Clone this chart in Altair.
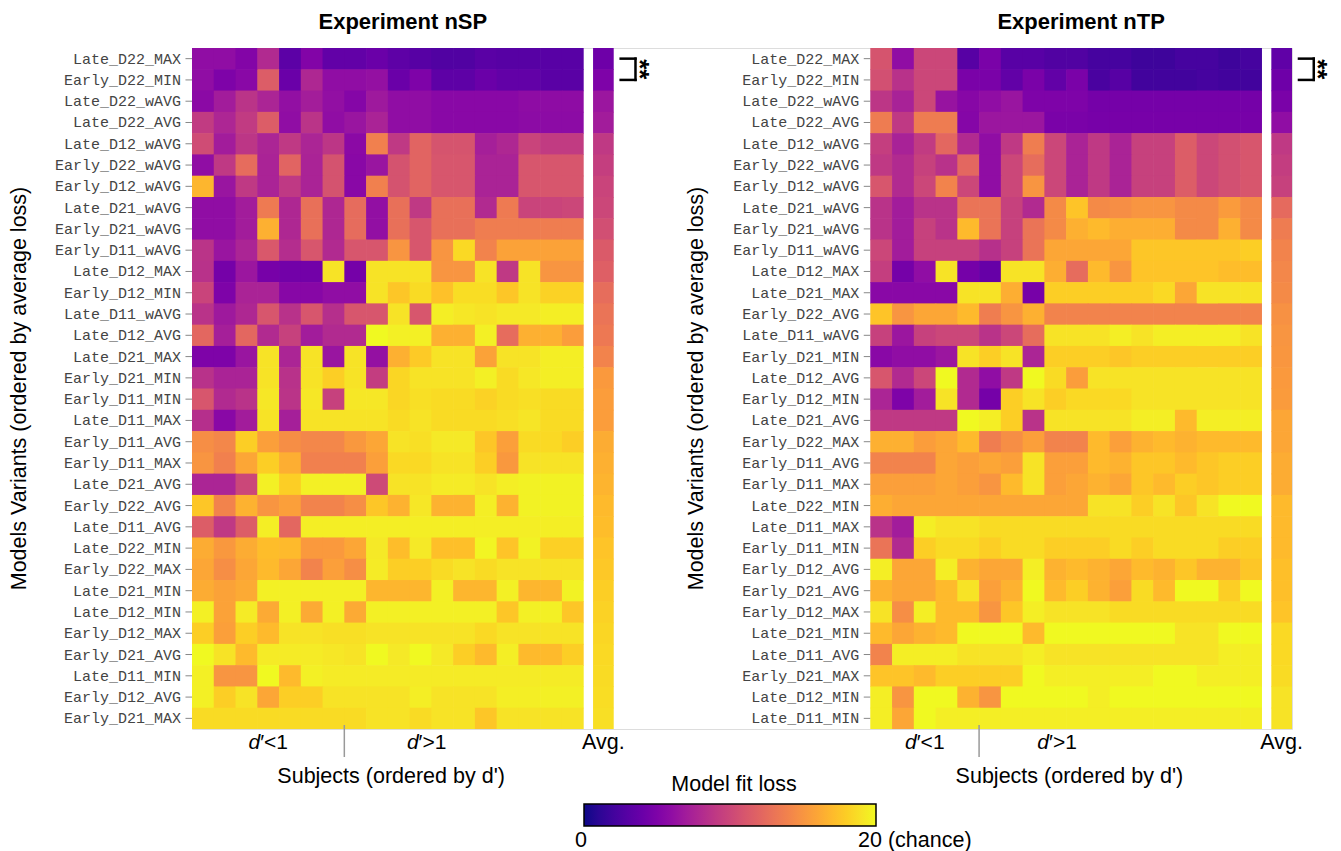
import altair as alt
import pandas as pd

SANS = "Liberation Sans"
MONO = "Liberation Mono"

# ---------------- data ----------------
nsp_rows = ["Late_D22_MAX", "Early_D22_MIN", "Late_D22_wAVG", "Late_D22_AVG", "Late_D12_wAVG",
            "Early_D22_wAVG", "Early_D12_wAVG", "Late_D21_wAVG", "Early_D21_wAVG", "Early_D11_wAVG",
            "Late_D12_MAX", "Early_D12_MIN", "Late_D11_wAVG", "Late_D12_AVG", "Late_D21_MAX",
            "Early_D21_MIN", "Early_D11_MIN", "Late_D11_MAX", "Early_D11_AVG", "Early_D11_MAX",
            "Late_D21_AVG", "Early_D22_AVG", "Late_D11_AVG", "Late_D22_MIN", "Early_D22_MAX",
            "Late_D21_MIN", "Late_D12_MIN", "Early_D12_MAX", "Early_D21_AVG", "Late_D11_MIN",
            "Early_D12_AVG", "Early_D21_MAX"]

ntp_rows = ["Late_D22_MAX", "Early_D22_MIN", "Late_D22_wAVG", "Late_D22_AVG", "Late_D12_wAVG",
            "Early_D22_wAVG", "Early_D12_wAVG", "Late_D21_wAVG", "Early_D21_wAVG", "Early_D11_wAVG",
            "Late_D12_MAX", "Late_D21_MAX", "Early_D22_AVG", "Late_D11_wAVG", "Early_D21_MIN",
            "Late_D12_AVG", "Early_D12_MIN", "Late_D21_AVG", "Early_D22_MAX", "Early_D11_AVG",
            "Early_D11_MAX", "Late_D22_MIN", "Late_D11_MAX", "Early_D11_MIN", "Early_D12_AVG",
            "Early_D21_AVG", "Early_D12_MAX", "Late_D21_MIN", "Late_D11_AVG", "Early_D21_MAX",
            "Late_D12_MIN", "Late_D11_MIN"]

nsp_values = [
    [6, 6, 5.3, 8, 3.3, 5.2, 3.6, 3.6, 4, 3.4, 3, 2.7, 2.7, 3.2, 3, 3, 3.1, 3.1],
    [6, 5, 5.6, 11.5, 4, 7.8, 6, 6, 6.2, 4, 5, 3.4, 3.4, 4, 3.6, 3.6, 3.2, 3.2],
    [5.7, 7, 8.7, 7.6, 6.1, 7.1, 6.1, 5.4, 6.8, 6, 6, 5.6, 5.6, 5.6, 5.6, 5.9, 5.9, 5.9],
    [9.2, 7.7, 9.2, 11.5, 6, 8.7, 6, 6.5, 7.5, 6, 6, 5.6, 5.6, 5.6, 5.6, 5.8, 5.8, 5.8],
    [10.3, 7, 8.8, 7.6, 9, 7.6, 8.8, 5.7, 13.8, 9, 12, 10.9, 10.9, 7.2, 7.8, 9.8, 9.2, 9.2],
    [6, 9, 12.5, 7.5, 12, 7.5, 10.8, 5.6, 6.5, 10.8, 12, 11, 11, 7.5, 7.5, 11, 11, 11],
    [16.8, 6.5, 9, 7.5, 9, 7.5, 10.8, 5.6, 13.8, 10.8, 12, 11, 11, 7.5, 7.5, 11, 11, 11],
    [6, 6, 7, 13.4, 7.8, 12.8, 7.8, 12.5, 6.1, 12.8, 9, 12.8, 12.8, 8, 13.4, 9.8, 9.8, 10],
    [6, 6, 7, 16.5, 7.8, 12.8, 7.8, 12.5, 6.1, 12.8, 11, 12.8, 12.8, 13.6, 13.6, 13.6, 13.6, 13.6],
    [8.7, 6.5, 7.6, 11.2, 8.2, 11, 8, 11, 11, 15, 11, 15, 18.5, 14, 15.8, 15.8, 15.8, 15.8],
    [8.5, 4.5, 6.6, 4.6, 4.4, 4.4, 19, 4.5, 19, 19, 19, 15, 15, 19, 9, 19, 15, 15],
    [9.8, 5, 7.5, 7.5, 5.5, 5.5, 6, 6, 19, 17.6, 18.6, 17.4, 18.7, 18.7, 17.6, 19, 18.2, 18.2],
    [8.6, 6.8, 7.8, 11, 8.5, 11, 8.3, 11, 11, 19, 11, 19.5, 19.2, 19, 19.3, 19.3, 19.5, 19.5],
    [12.2, 7.2, 12.2, 8, 9.6, 7, 8, 8, 20, 19.6, 19.6, 16.5, 16.5, 19.6, 12.5, 16.5, 16.5, 15.5],
    [5, 5, 6.5, 19, 7.6, 19, 6.5, 19, 6.2, 16.5, 17.8, 19, 19, 15.8, 19, 19, 19.5, 19.5],
    [8.5, 7.5, 7.5, 19, 8.5, 19, 18, 19, 9.3, 18.4, 19, 19, 19, 19.6, 18.6, 19.2, 19.5, 19.5],
    [11, 8, 8.6, 19.2, 8.7, 19.2, 9.6, 19.2, 19.2, 18.4, 18.8, 18.6, 18.6, 18.2, 18.6, 18.8, 18.6, 18.6],
    [8.3, 5.6, 7, 19, 7.2, 19, 19, 19, 19, 18.6, 19, 18.6, 18.6, 18.6, 18.8, 19.1, 18.6, 18.6],
    [14.6, 14.2, 18, 15.6, 14.6, 14.2, 14.2, 15.2, 16, 19, 18.8, 19.3, 19.3, 17.6, 15.6, 18.6, 18.5, 18],
    [15, 13.8, 16, 18, 16.4, 13.8, 13.8, 13.8, 15.6, 18.5, 18.5, 19, 19, 18, 15.2, 19, 19, 19],
    [7.6, 7.6, 10, 19.6, 18, 19.6, 19.6, 19.6, 10.2, 19, 19, 19.4, 19.4, 19, 19.5, 19.7, 19.7, 19.7],
    [17.6, 14, 16.6, 15, 15.6, 14, 14, 14.6, 17.6, 16.6, 19.2, 16.6, 16.6, 19.5, 16.6, 19.7, 19.7, 19.7],
    [11.5, 9, 11.5, 19.5, 12.2, 19.5, 19.5, 19.5, 19.5, 19.5, 19.5, 19.5, 19.5, 19.5, 19.5, 19.5, 19.5, 19.5],
    [16.3, 15.2, 16.3, 17.2, 17, 15.3, 15.3, 16, 19.3, 17.2, 19.3, 17.3, 17.3, 19.8, 17.5, 19.7, 18.1, 18.1],
    [16, 14.6, 16, 17, 16, 14, 15.6, 14.6, 19.4, 18, 18, 18.6, 19, 18.6, 19, 19, 19, 19],
    [16.3, 15.8, 16.2, 19.6, 19.6, 19.6, 19.6, 19.6, 16.8, 16.8, 16.8, 19.6, 16.8, 16.8, 19.6, 16.8, 16.8, 19.7],
    [19.6, 15.8, 19.4, 16.2, 19.6, 16.2, 19.6, 16.2, 19.6, 19.6, 19.6, 19.6, 19.6, 19.6, 17.6, 19.6, 19.6, 17.6],
    [18, 15.6, 18, 17, 19, 19, 18.8, 18.8, 19, 19, 19, 19, 19, 18.5, 19, 19, 19, 19],
    [20, 19, 17, 19.4, 19.4, 19.4, 19.2, 19, 20, 19.3, 20, 19.3, 18, 17, 19.5, 17, 17, 18],
    [19.6, 15, 15, 20, 17, 19.6, 19.4, 19.4, 19.4, 19.4, 19.4, 19.4, 19.4, 19.4, 19.4, 19.4, 19.4, 19.4],
    [19.6, 18, 19, 16, 18, 18, 19, 19, 19, 19, 19.5, 19, 19, 19, 19.5, 19.5, 19.6, 19.6],
    [18.6, 18.6, 18.6, 18.6, 18.6, 18.6, 18.6, 18.6, 19, 19, 18.6, 19, 19, 17.6, 19, 19, 19, 19],
]
nsp_avg = [4.2, 5, 6.6, 7, 9, 9.4, 9.8, 10, 10.5, 11.3, 11.7, 12.6, 13, 13.3, 14, 15.3,
           15.5, 15.5, 16.3, 16.5, 16.7, 17, 17.2, 17.5, 17.7, 18, 18.2, 18.4, 18.5, 18.6, 18.7, 18.8]

ntp_values = [
    [10.9, 6, 10, 10, 3, 4.8, 3.1, 3.1, 2.7, 2.7, 2.2, 2.2, 1.8, 1.8, 2.2, 2.2, 1.8, 2.2],
    [10.6, 8.5, 10, 10, 4.8, 4.8, 3.6, 4.8, 3.6, 4.8, 2.4, 3, 2, 2, 2, 2.2, 2, 2],
    [8.8, 7.4, 10, 6.4, 5.5, 6, 6.5, 5, 5, 5, 4.5, 4.5, 4.5, 4.5, 4.5, 4.5, 4.5, 4.5],
    [13.5, 9, 13.5, 13.5, 5.4, 6.6, 6.6, 6.6, 4.8, 4.8, 4.6, 4.6, 4.6, 4.6, 4.6, 4.6, 4.6, 4.6],
    [9.4, 7.4, 9.2, 12.2, 8, 6, 9, 13.6, 10, 7.5, 9, 7.5, 9.6, 9.6, 11.5, 10, 10.6, 11],
    [9, 8, 9.6, 8.5, 12.2, 6, 10, 12.6, 10, 7.5, 9, 7.5, 9.6, 9.6, 11.5, 10, 10.6, 11],
    [11, 8, 10, 14, 10, 6, 10, 15, 10, 7.5, 9, 7.5, 9.6, 9.6, 11.5, 10, 10.6, 11],
    [8.6, 7, 8.6, 8.6, 13, 13, 9.6, 8, 14.4, 17.5, 14.4, 14.6, 15, 15, 14.4, 14.4, 15.4, 14.4],
    [8.6, 7, 9.6, 8.6, 17, 13, 9.6, 13, 14.4, 16.5, 17, 16.4, 16.4, 16.4, 14.4, 14.4, 16.5, 14.4],
    [10, 7, 9.6, 9.6, 9.6, 8.4, 9.6, 13, 16, 16, 16, 16, 17.6, 17.6, 17.6, 17.6, 17.6, 18],
    [9.4, 4.5, 6, 19, 4.5, 3.8, 19, 19, 16.4, 12.5, 17, 15, 17.5, 17.5, 17.5, 17.5, 17.2, 17.2],
    [5.6, 5.6, 5.6, 5.6, 19, 19, 16.4, 4.6, 18, 18, 18, 18, 18, 18.5, 16, 19, 19, 19],
    [17.5, 15, 16, 16, 17, 13.6, 15, 16.5, 14, 14, 14, 14, 14, 14, 14, 14, 14, 14],
    [9.6, 6.6, 9.6, 10, 10, 8.6, 10, 12.6, 19, 19, 19, 19.5, 19, 19.5, 19.5, 19.5, 19.5, 19],
    [5.6, 6, 6, 6.6, 19, 18, 19, 7.6, 18, 18, 18, 17.6, 18, 18, 18, 18, 18, 18],
    [11, 8, 10, 20, 8, 6, 9, 20, 18.6, 15.5, 19, 19, 19, 19, 19, 19, 19, 19],
    [7.6, 5, 7, 19, 8, 4.5, 18, 19, 18, 18.5, 18.5, 18.5, 19, 19, 19, 19, 19, 19],
    [9, 9, 9, 9, 20, 19.5, 18, 8.6, 19, 19, 19, 19, 19.5, 19.5, 17, 19.5, 19.5, 19.5],
    [16.5, 16.5, 15.5, 16, 17, 13.6, 14.6, 15.6, 14, 14, 17, 15.6, 16.6, 17, 16.6, 17, 17, 17],
    [14, 14, 14, 16, 15.6, 16, 15.6, 19, 15.6, 15.6, 17, 16.6, 17.6, 17.6, 17, 17.6, 18, 18],
    [15.6, 15.6, 15.6, 16, 15.6, 15, 17, 19, 15.6, 16, 16.6, 16, 17.6, 17, 18, 17.6, 18, 18],
    [16.4, 16, 16, 16, 16, 16, 16, 16, 16, 16, 19, 19, 18, 19, 17.6, 19, 20, 20],
    [8.6, 7, 19.5, 19, 19, 18.6, 18.6, 18.6, 18.6, 18.6, 18.6, 18.6, 18.6, 18.6, 18.6, 18.6, 18.6, 18.6],
    [13, 8, 18, 18.6, 18.6, 18, 18.6, 18.6, 18, 18, 18, 18.6, 18, 18.6, 18.6, 18.6, 18, 18],
    [19.5, 16, 16, 19.5, 16.6, 16, 16, 19.5, 16.6, 17, 16.6, 16, 17, 16.6, 17.6, 16.6, 16.6, 17.6],
    [16.6, 16, 16, 17, 19, 15.6, 16.6, 20, 17, 18, 16.6, 15.6, 18.6, 17, 20, 20, 18, 20],
    [19, 14.6, 19.5, 17, 17, 15, 17.6, 19.5, 19, 19, 19, 18.6, 18.6, 18.6, 18.6, 18.6, 18.6, 18.6],
    [17, 16, 16.6, 17, 20, 20, 20, 17, 20, 20, 20, 20, 20, 20, 19, 19, 20, 20],
    [14, 19.5, 19.5, 19.5, 19, 19, 19, 19.5, 19, 19, 19, 19, 19, 19, 19, 19, 19.5, 19.5],
    [17.5, 17.5, 17, 18, 18, 18, 18, 20, 19.5, 19.5, 19.5, 19.5, 19.5, 20, 20, 19.5, 19.5, 19.5],
    [19.5, 15, 20, 20, 16.6, 15, 20, 20, 20, 20, 19.5, 20, 20, 20, 20, 20, 20, 20],
    [19.5, 16, 20, 19.5, 19.5, 19.5, 19.5, 19.5, 19.5, 19.5, 19.5, 19.5, 19.5, 19.5, 19.5, 19.5, 19.5, 19.5],
]
ntp_avg = [3.5, 4.2, 4.8, 6, 9, 9.3, 9.6, 12.4, 13.5, 14, 14.2, 14.4, 14.8, 15, 15.1, 15.3,
           15.4, 16, 16, 16.3, 16.3, 17, 17, 17, 17.3, 17.3, 17.5, 18.5, 18.5, 18.6, 19, 19]

panel_titles = ["Experiment nSP", "Experiment nTP"]
split_after = [7, 5]              # number of subjects with d' < 1
dhigh_pos = [10.78, 8.58]         # where the "d'>1" text sits (in subject units)
subjects_pos = [9.15, 9.15]       # where the x title sits (in subject units)
y_title = "Models Variants (ordered by average loss)"
x_title = "Subjects (ordered by d')"
legend_title = "Model fit loss"
legend_ends = ["0", "20 (chance)"]

# ---------------- layout (in subject-column units) ----------------
N_ROWS = 32
OFFSETS = [0.0, 31.17]
AVG_START, AVG_END = 18.43, 19.38
X_MAX = 50.55
W, H = 1100, 681
FS = 21.5
JOIN = 0.03   # tiny overlap so adjacent cells join without anti-aliasing seams

xs = alt.Scale(domain=[0, X_MAX], nice=False, zero=False)
ys = alt.Scale(domain=[0, N_ROWS], reverse=True, nice=False, zero=False)
cs = alt.Scale(scheme="plasma", domain=[0, 20])

cells, labels, ticks, titles, ytitles = [], [], [], [], []
dtexts, avgs, subj, seps, brackets, stars = [], [], [], [], [], []
for p, (off, rows, vals, av) in enumerate(zip(OFFSETS, [nsp_rows, ntp_rows],
                                              [nsp_values, ntp_values], [nsp_avg, ntp_avg])):
    for r, row in enumerate(vals):
        y2 = r + 1 + (JOIN if r < N_ROWS - 1 else 0)
        for c, v in enumerate(row):
            x2 = off + c + 1 + (JOIN if c < len(row) - 1 else 0)
            cells.append(dict(x=off + c, x2=x2, y=r, y2=y2, loss=v))
        cells.append(dict(x=off + AVG_START, x2=off + AVG_END, y=r, y2=y2, loss=av[r]))
    for r, name in enumerate(rows):
        labels.append(dict(x=off, y=r + 0.5, text=name))
        ticks.append(dict(x=off - 0.3, x2=off, y=r + 0.5))
    titles.append(dict(x=off + AVG_END / 2, text=panel_titles[p]))
    ytitles.append(dict(x=off - 7.9 if p == 0 else off - 7.97, y=N_ROWS / 2, text=y_title))
    dtexts.append(dict(x=off + split_after[p] / 2, d="d", rest="\u2032<1"))
    dtexts.append(dict(x=off + dhigh_pos[p], d="d", rest="\u2032>1"))
    avgs.append(dict(x=off + (AVG_START + AVG_END) / 2, text="Avg."))
    subj.append(dict(x=off + subjects_pos[p], text=x_title))
    seps.append(dict(x=off + split_after[p]))
    a, b = off + 19.7, off + 20.38
    brackets += [dict(x=a, x2=b, y=0.5, y2=0.5), dict(x=a, x2=b, y=1.5, y2=1.5),
                 dict(x=b, x2=b, y=0.5, y2=1.5)]
    stars.append(dict(x=off + 20.55, y=1.0, text="**"))

X = alt.X("x:Q", scale=xs, axis=None)
Y = alt.Y("y:Q", scale=ys, axis=None)

# colour bar (pixel placement of the guide)
LEG_X, LEG_Y, LEG_LEN, LEG_THICK = 392, 756, 292, 22

legend = alt.Legend(
    type="gradient", orient="none", legendX=LEG_X, legendY=LEG_Y, direction="horizontal",
    gradientLength=LEG_LEN, gradientThickness=LEG_THICK,
    gradientStrokeColor="black", gradientStrokeWidth=1.5,
    title=None, tickCount=4, labelExpr="''", labelFontSize=1,
)

heat = alt.Chart(pd.DataFrame(cells)).mark_rect().encode(
    x=X, x2="x2:Q", y=Y, y2="y2:Q",
    color=alt.Color("loss:Q", scale=cs, legend=legend),
)

row_labels = alt.Chart(pd.DataFrame(labels)).mark_text(
    align="right", baseline="middle", dx=-11, font=MONO, fontSize=15, color="#444"
).encode(x=X, y=Y, text="text:N")

row_ticks = alt.Chart(pd.DataFrame(ticks)).mark_rule(color="#888", strokeWidth=1).encode(
    x=X, x2="x2:Q", y=Y)

title_layer = alt.Chart(pd.DataFrame(titles)).mark_text(
    align="center", baseline="middle", font=SANS, fontSize=22, fontWeight="bold", color="black"
).encode(x=X, y=alt.value(-26), text="text:N")

ytitle_layer = alt.Chart(pd.DataFrame(ytitles)).mark_text(
    angle=270, align="center", baseline="middle", font=SANS, fontSize=FS, color="black"
).encode(x=X, y=Y, text="text:N")

d_part = alt.Chart(pd.DataFrame(dtexts)).mark_text(
    align="right", baseline="middle", dx=-8, font=SANS, fontSize=21, fontStyle="italic",
    color="black").encode(x=X, y=alt.value(695), text="d:N")
rest_part = alt.Chart(pd.DataFrame(dtexts)).mark_text(
    align="left", baseline="middle", dx=-8, font=SANS, fontSize=21, color="black"
).encode(x=X, y=alt.value(695), text="rest:N")

avg_text = alt.Chart(pd.DataFrame(avgs)).mark_text(
    align="center", baseline="middle", font=SANS, fontSize=FS, color="black"
).encode(x=X, y=alt.value(695), text="text:N")

subj_text = alt.Chart(pd.DataFrame(subj)).mark_text(
    align="center", baseline="middle", font=SANS, fontSize=FS, color="black"
).encode(x=X, y=alt.value(729), text="text:N")

legend_title_text = alt.Chart(pd.DataFrame({"text": [legend_title]})).mark_text(
    align="center", baseline="middle", font=SANS, fontSize=FS, color="black"
).encode(x=alt.value(LEG_X + LEG_LEN / 2 + 4), y=alt.value(737), text="text:N")

legend_end_0 = alt.Chart(pd.DataFrame({"text": [legend_ends[0]]})).mark_text(
    align="center", baseline="middle", font=SANS, fontSize=FS, color="black"
).encode(x=alt.value(LEG_X - 3), y=alt.value(793), text="text:N")
legend_end_20 = alt.Chart(pd.DataFrame({"text": [legend_ends[1]]})).mark_text(
    align="left", baseline="middle", font=SANS, fontSize=FS, color="black"
).encode(x=alt.value(LEG_X + LEG_LEN - 18), y=alt.value(793), text="text:N")

sep_rules = alt.Chart(pd.DataFrame(seps)).mark_rule(color="#999", strokeWidth=1.5).encode(
    x=X, y=alt.value(677), y2=alt.value(709))

bracket = alt.Chart(pd.DataFrame(brackets)).mark_rule(
    color="black", strokeWidth=2.5, strokeCap="square").encode(x=X, x2="x2:Q", y=Y, y2="y2:Q")

star_text = alt.Chart(pd.DataFrame(stars)).mark_text(
    angle=90, align="center", baseline="middle", font=SANS, fontSize=26, fontWeight="bold",
    color="black").encode(x=X, y=Y, text="text:N")

chart = alt.layer(
    heat, row_ticks, row_labels, title_layer, ytitle_layer, d_part, rest_part,
    avg_text, subj_text, legend_title_text, legend_end_0, legend_end_20, sep_rules, bracket,
    star_text,
).properties(
    width=W, height=H,
    autosize=alt.AutoSizeParams(type="none"),
    padding={"left": 184, "top": 40, "right": 41, "bottom": 122},
).configure_view(stroke=None).configure(font=SANS)

chart.save("out.html", embed_options={"renderer": "svg", "actions": False})
